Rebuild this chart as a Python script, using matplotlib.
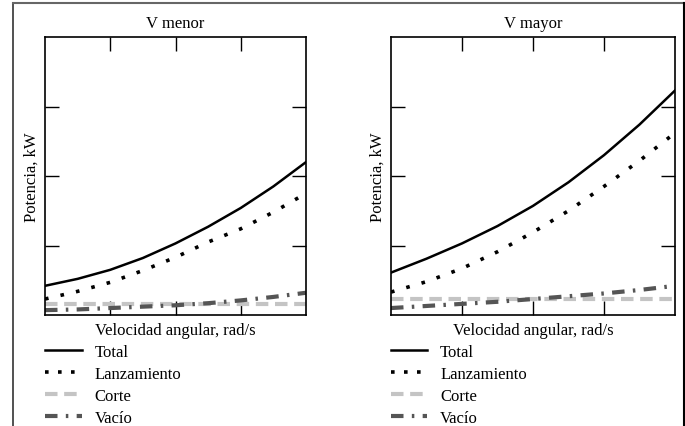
import numpy as np
import matplotlib
matplotlib.use("Agg")
import matplotlib.pyplot as plt
from matplotlib.lines import Line2D

plt.rcParams['font.family'] = ['Liberation Serif', 'DejaVu Serif']

# angular velocity (arbitrary units, no tick labels in the original)
vel = [0, 0.5, 1, 1.5, 2, 2.5, 3, 3.5, 4]

# V menor
menor_total = [0.42, 0.52, 0.65, 0.82, 1.03, 1.27, 1.54, 1.85, 2.20]
menor_lanz = [0.23, 0.34, 0.47, 0.64, 0.83, 1.05, 1.24, 1.48, 1.75]
menor_corte = [0.16, 0.16, 0.16, 0.16, 0.16, 0.16, 0.16, 0.16, 0.16]
menor_vacio = [0.07, 0.08, 0.10, 0.12, 0.14, 0.17, 0.21, 0.26, 0.32]

# V mayor
mayor_total = [0.61, 0.81, 1.03, 1.28, 1.57, 1.91, 2.30, 2.74, 3.23]
mayor_lanz = [0.33, 0.48, 0.67, 0.91, 1.19, 1.50, 1.85, 2.22, 2.62]
mayor_corte = [0.23, 0.23, 0.23, 0.23, 0.23, 0.23, 0.23, 0.23, 0.23]
mayor_vacio = [0.10, 0.13, 0.16, 0.19, 0.23, 0.27, 0.31, 0.36, 0.42]

titles = ['V menor', 'V mayor']
labels = ['Total', 'Lanzamiento', 'Corte', 'Vacío']

W, H = 685, 427
fig = plt.figure(figsize=(W / 100, H / 100), dpi=100)

FS = 12
DOT = (0, (1.0, 3.4))
DASH = (0, (3, 1.6))
DASHDOT = (0, (3, 2, 0.6, 2))


def px_axes(x0, y0, x1, y1):
    return fig.add_axes([x0 / W, 1 - y1 / H, (x1 - x0) / W, (y1 - y0) / H])


def draw_panel(ax, title, total, lanz, corte, vacio):
    ax.plot(vel, corte, color='#c4c4c4', lw=3, ls=DASH)
    ax.plot(vel, vacio, color='#555555', lw=3, ls=DASHDOT)
    ax.plot(vel, lanz, color='black', lw=2.6, ls=DOT)
    ax.plot(vel, total, color='black', lw=1.8)
    ax.set_xlim(0, 4)
    ax.set_ylim(0, 4)
    ax.set_xticks([1, 2, 3])
    ax.set_yticks([1, 2, 3])
    ax.tick_params(direction='in', length=10, width=1, top=True, right=True,
                   labelbottom=False, labelleft=False)
    for s in ax.spines.values():
        s.set_linewidth(1.2)
    ax.set_title(title, fontsize=FS, pad=7)
    ax.set_ylabel('Potencia, kW', fontsize=FS, labelpad=4)
    ax.set_xlabel('Velocidad angular, rad/s', fontsize=FS, labelpad=5)
    handles = [
        Line2D([], [], color='black', lw=1.8),
        Line2D([], [], color='black', lw=2.6, ls=(0, (1.0, 2.6))),
        Line2D([], [], color='#c4c4c4', lw=3, ls=DASH),
        Line2D([], [], color='#555555', lw=3, ls=DASHDOT),
    ]
    ax.legend(handles, labels, loc='upper left', bbox_to_anchor=(-0.025, -0.08),
              frameon=False, fontsize=FS, handlelength=2.2, handletextpad=0.78,
              labelspacing=0.36, borderaxespad=0)


ax1 = px_axes(45, 38, 306, 316)
draw_panel(ax1, titles[0], menor_total, menor_lanz, menor_corte, menor_vacio)
ax2 = px_axes(391, 38, 675, 316)
draw_panel(ax2, titles[1], mayor_total, mayor_lanz, mayor_corte, mayor_vacio)

# outer frame of the original figure (no bottom edge)
fig.add_artist(Line2D([13 / W, 13 / W], [0, 1 - 4 / H], color='#333333', lw=1.2))
fig.add_artist(Line2D([13 / W, 684 / W], [1 - 4 / H, 1 - 4 / H], color='#666666', lw=1.5))
fig.add_artist(Line2D([684 / W, 684 / W], [0, 1 - 4 / H], color='black', lw=1.5))

fig.savefig('out.png', dpi=100)
